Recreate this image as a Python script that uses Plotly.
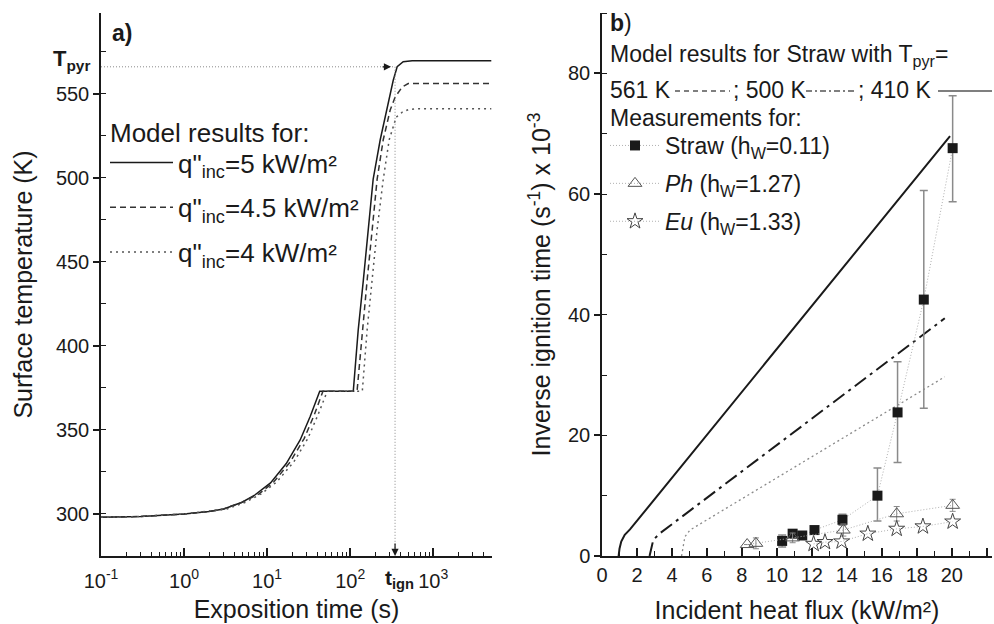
import numpy as np
import plotly.graph_objects as go

# ---- panel a: surface temperature vs exposition time ----
t_5 = [0.1, 0.3, 1, 2, 3, 5, 7, 11, 17, 25, 33, 43, 109, 125, 144, 165, 189, 230, 279, 330, 368, 435, 558, 5000]
T_5 = [298, 298.5, 300, 301.5, 303, 307, 311, 318.5, 330, 344, 358, 373, 373, 409.5, 439, 469, 499, 522.6, 542, 558, 566, 569, 569.6, 569.6]

t_45 = [0.1, 0.3, 1, 2, 3, 5, 8, 12, 19, 28, 37, 47, 121, 140, 160, 184, 211, 250, 304, 348, 423, 500, 5000]
T_45 = [298, 298.5, 300, 301.5, 303, 307, 312, 319, 331, 345, 359, 373, 373, 409.5, 439, 469, 499, 522.6, 540.5, 548, 554, 556, 556]

t_4 = [0.1, 0.3, 1, 2, 3.3, 5.5, 8.5, 13, 21, 31, 41, 53, 140, 160, 184, 211, 250, 295, 358, 424, 501, 607, 5000]
T_4 = [298, 298.5, 300, 301.5, 303, 307, 312, 319, 331, 345, 359, 373, 373, 409.5, 439, 469, 499, 522.6, 536, 539, 540.5, 541, 541]

T_PYR = 566
T_IGN = 347
T_BOTTOM = 275

log_ticks = [0.1, 1, 10, 100, 1000]
log_ticktext = ["10<sup>-1</sup>", "10<sup>0</sup>", "10<sup>1</sup>", "10<sup>2</sup>", "10<sup>3</sup>"]

# ---- panel b: inverse ignition time vs heat flux ----
q_410 = [0.95, 1.0, 1.1, 1.3, 1.6, 19.9]
inv_410 = [0, 1.2, 2.4, 3.5, 4.4, 69.6]
q_500 = [2.72, 2.8, 2.93, 3.31, 19.6]
inv_500 = [0, 1.0, 2.65, 3.76, 39.4]
q_561 = [4.55, 4.62, 4.74, 5.03, 19.6]
inv_561 = [0, 1.5, 3.2, 4.3, 29.7]

straw_q = [10.3, 10.9, 11.45, 12.15, 13.75, 15.75, 16.9, 18.4, 20.05]
straw_inv = [2.5, 3.7, 3.4, 4.3, 6.0, 10.0, 23.8, 42.5, 67.6]
straw_err_plus = [1.0, 0.4, 0.3, 0.3, 0.9, 4.6, 8.4, 18.1, 8.7]
straw_err_minus = [1.0, 0.4, 0.3, 0.3, 0.9, 4.2, 8.3, 18.0, 8.9]

ph_q = [8.3, 8.8, 10.9, 13.8, 16.85, 20.05]
ph_inv = [1.9, 2.1, 3.0, 4.3, 7.0, 8.4]
ph_err = [0, 0.9, 0.8, 1.0, 1.2, 1.0]

eu_q = [12.1, 12.75, 13.7, 15.2, 16.85, 18.35, 20.05]
eu_inv = [2.0, 2.3, 2.4, 3.7, 4.5, 4.9, 5.7]

FONT = "Liberation Sans, Arial, sans-serif"
INK = "#1a1a1a"
GREY = "#8a8a8a"

L, R, T, B = 101, 2, 13, 68
W, H = 994, 624


def px(x):
    return (x - L) / (W - L - R)


def py(y):
    return (H - B - y) / (H - B - T)


fig = go.Figure()

# panel a curves
fig.add_trace(go.Scatter(x=t_5, y=T_5, mode="lines", name='q"<sub>inc</sub>=5 kW/m²',
                         line=dict(color=INK, width=1.5), legend="legend2", legendgroup="a5"))
fig.add_trace(go.Scatter(x=t_45, y=T_45, mode="lines", name='q"<sub>inc</sub>=4.5 kW/m²',
                         line=dict(color="#333333", width=1.5, dash="6px,4px"), legend="legend2", legendgroup="a45"))
fig.add_trace(go.Scatter(x=t_4, y=T_4, mode="lines", name='q"<sub>inc</sub>=4 kW/m²',
                         line=dict(color="#555555", width=1.5, dash="2px,4px"), legend="legend2", legendgroup="a4"))

# guide lines to T_pyr / t_ign
fig.add_trace(go.Scatter(x=[0.1, T_IGN], y=[T_PYR, T_PYR], mode="lines", showlegend=False,
                         line=dict(color=GREY, width=1, dash="1px,2px")))
fig.add_trace(go.Scatter(x=[T_IGN, T_IGN], y=[T_PYR, T_BOTTOM], mode="lines", showlegend=False,
                         line=dict(color=GREY, width=1, dash="1px,2px")))

# panel b model lines
fig.add_trace(go.Scatter(x=q_410, y=inv_410, mode="lines", xaxis="x2", yaxis="y2", showlegend=False,
                         line=dict(color=INK, width=2)))
fig.add_trace(go.Scatter(x=q_500, y=inv_500, mode="lines", xaxis="x2", yaxis="y2", showlegend=False,
                         line=dict(color=INK, width=2, dash="14px,5px,3px,5px")))
fig.add_trace(go.Scatter(x=q_561, y=inv_561, mode="lines", xaxis="x2", yaxis="y2", showlegend=False,
                         line=dict(color=GREY, width=1.3, dash="2px,3px")))

# panel b measurements
fig.add_trace(go.Scatter(
    x=straw_q, y=straw_inv, mode="lines+markers", xaxis="x2", yaxis="y2",
    name="Straw (h<sub>W</sub>=0.11)", legend="legend", legendgroup="straw",
    line=dict(color="#b0b0b0", width=1, dash="1px,2px"),
    marker=dict(symbol="square", size=10, color=INK),
    error_y=dict(type="data", array=straw_err_plus, arrayminus=straw_err_minus,
                 color=GREY, thickness=1.5, width=4),
))
fig.add_trace(go.Scatter(
    x=ph_q, y=ph_inv, mode="lines+markers", xaxis="x2", yaxis="y2",
    name="<i>Ph</i> (h<sub>W</sub>=1.27)", legend="legend", legendgroup="ph",
    line=dict(color="#b0b0b0", width=1, dash="1px,2px"),
    marker=dict(symbol="triangle-up-open", size=12, color="#555555", line=dict(width=1)),
    error_y=dict(type="data", array=ph_err, color=GREY, thickness=1, width=3),
))
fig.add_trace(go.Scatter(
    x=eu_q, y=eu_inv, mode="lines+markers", xaxis="x2", yaxis="y2",
    name="<i>Eu</i> (h<sub>W</sub>=1.33)", legend="legend", legendgroup="eu",
    line=dict(color="#b0b0b0", width=1, dash="1px,2px"),
    marker=dict(symbol="star-open", size=12, color="#444444", line=dict(width=1)),
))

axis_common = dict(
    showline=True, linecolor=INK, linewidth=1.5, mirror=False, showgrid=False, zeroline=False,
    tickfont=dict(family=FONT, size=20, color=INK), tickcolor=INK,
    title_font=dict(family=FONT, size=25, color=INK),
)

fig.update_layout(
    width=W, height=H,
    margin=dict(l=L, r=R, t=T, b=B),
    paper_bgcolor="white", plot_bgcolor="white",
    font=dict(family=FONT, color=INK),
    xaxis=dict(
        axis_common, domain=[0, px(492)], type="log", range=[-1, np.log10(5100)],
        tickmode="array", tickvals=log_ticks, ticktext=log_ticktext,
        ticks="inside", ticklen=8, tickwidth=1.5, ticklabelstandoff=6,
        minor=dict(ticks="inside", ticklen=4, tickwidth=1.2, dtick="D1", tickcolor=INK),
        title=dict(text="Exposition time (s)", standoff=10), anchor="y",
    ),
    yaxis=dict(
        axis_common, domain=[0, 1], range=[T_BOTTOM, 598], dtick=50, tick0=0,
        ticks="outside", ticklen=6, tickwidth=1.5,
        minor=dict(ticks="inside", ticklen=5, tickwidth=1.2, dtick=25, tickcolor=INK),
        title=dict(text="Surface temperature (K)", standoff=16), anchor="x",
    ),
    xaxis2=dict(
        axis_common, domain=[px(602), 1], range=[0, 22.3], dtick=2, tick0=0,
        ticks="inside", ticklen=8, tickwidth=1.5,
        minor=dict(ticks="inside", ticklen=5, tickwidth=1.2, dtick=1, tickcolor=INK),
        title=dict(text="Incident heat flux (kW/m²)", standoff=18), anchor="y2",
    ),
    yaxis2=dict(
        axis_common, domain=[0, 1], range=[0, 90], dtick=20, tick0=0,
        ticks="outside", ticklen=6, tickwidth=1.5,
        minor=dict(ticks="inside", ticklen=5, tickwidth=1.2, dtick=10, tickcolor=INK),
        title=dict(text="Inverse ignition time (s<sup>-1</sup>) x 10<sup>-3</sup>", standoff=10),
        anchor="x2",
    ),
    legend=dict(
        x=px(605), y=py(124), xanchor="left", yanchor="top",
        font=dict(family=FONT, size=23, color=INK), bgcolor="rgba(0,0,0,0)",
        itemwidth=50, tracegroupgap=5, traceorder="grouped",
    ),
    legend2=dict(
        x=px(105), y=py(139), xanchor="left", yanchor="top",
        font=dict(family=FONT, size=26, color=INK), bgcolor="rgba(0,0,0,0)",
        itemwidth=63, tracegroupgap=8, traceorder="grouped",
    ),
)

ann = dict(showarrow=False, xref="paper", yref="paper", font=dict(family=FONT, size=23, color=INK))
fig.add_annotation(ann, x=px(110), y=py(33), text="<b>a)</b>", xanchor="left", yanchor="middle")
fig.add_annotation(ann, x=px(92), y=py(60), text="<b>T<sub>pyr</sub></b>", xanchor="right", yanchor="middle",
                   font=dict(family=FONT, size=22, color=INK))
fig.add_annotation(ann, x=px(399), y=py(579), text="<b>t<sub>ign</sub></b>", xanchor="center", yanchor="middle",
                   font=dict(family=FONT, size=21, color=INK))
fig.add_annotation(ann, x=px(108), y=py(133), text="Model results for:", xanchor="left", yanchor="middle",
                   font=dict(family=FONT, size=26, color=INK))

fig.add_annotation(ann, x=px(608), y=py(23), text="<b>b</b>)", xanchor="left", yanchor="middle")
fig.add_annotation(ann, x=px(608), y=py(55), text="Model results for Straw with T<sub>pyr</sub>=",
                   xanchor="left", yanchor="middle")
fig.add_annotation(ann, x=px(608), y=py(90), text="561 K", xanchor="left", yanchor="middle")
fig.add_annotation(ann, x=px(731), y=py(90), text="; 500 K", xanchor="left", yanchor="middle")
fig.add_annotation(ann, x=px(856), y=py(90), text="; 410 K", xanchor="left", yanchor="middle")
fig.add_annotation(ann, x=px(608), y=py(118), text="Measurements for:", xanchor="left", yanchor="middle")

# line samples for the model key
fig.add_shape(type="line", xref="paper", yref="paper", x0=px(675), x1=px(730), y0=py(91), y1=py(91),
              line=dict(color="#555555", width=1.3, dash="5px,4px"))
fig.add_shape(type="line", xref="paper", yref="paper", x0=px(806), x1=px(856), y0=py(91), y1=py(91),
              line=dict(color="#555555", width=1.3, dash="6px,3px,2px,3px"))
fig.add_shape(type="line", xref="paper", yref="paper", x0=px(938), x1=px(992), y0=py(91), y1=py(91),
              line=dict(color="#555555", width=1.3))

# arrow heads on the guide lines
fig.add_annotation(x=np.log10(T_IGN), y=T_PYR, xref="x", yref="y", ax=-14, ay=0, text="",
                   showarrow=True, arrowhead=2, arrowsize=1.2, arrowwidth=1.2, arrowcolor=INK, standoff=4)
fig.add_annotation(x=np.log10(T_IGN), y=T_BOTTOM, xref="x", yref="y", ax=0, ay=-14, text="",
                   showarrow=True, arrowhead=2, arrowsize=1.2, arrowwidth=1.2, arrowcolor=INK, standoff=0)

# the page body keeps its default 8px margin otherwise
fig.write_html("out.html", config={"displayModeBar": False},
               post_script="document.body.style.margin = '0';")
